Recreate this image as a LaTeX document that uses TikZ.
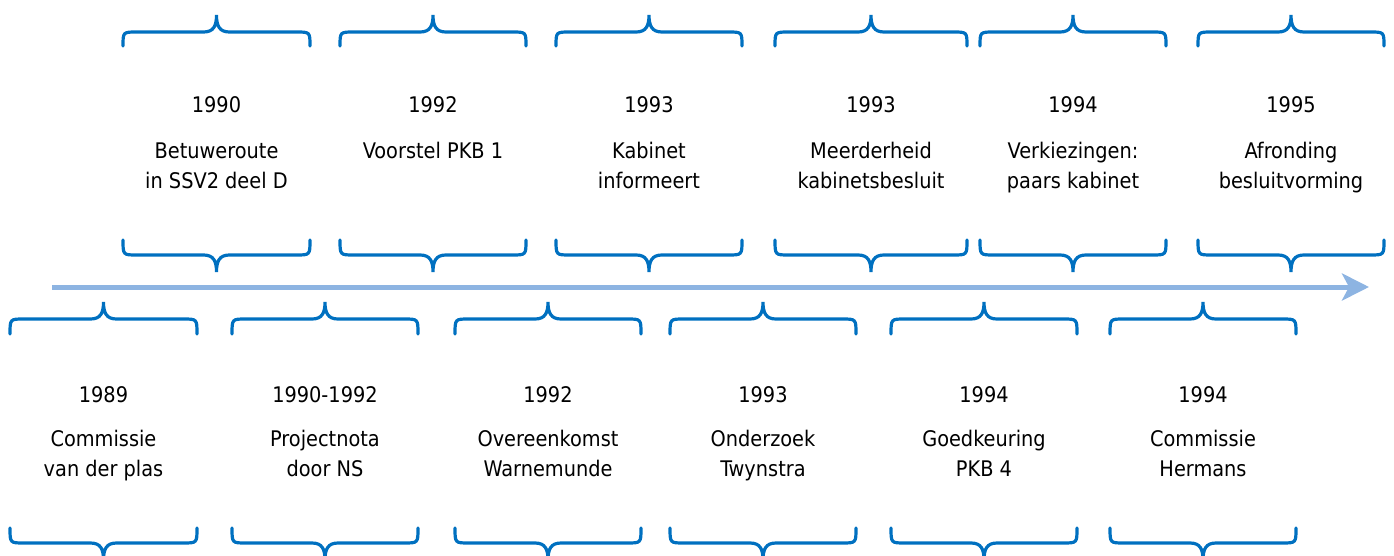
\documentclass[tikz,border=0pt]{standalone}
\usepackage{fontspec}
\setmainfont{DejaVu Sans Condensed}
\usetikzlibrary{arrows.meta}
\definecolor{bracecol}{RGB}{0,112,192}
\definecolor{axiscol}{RGB}{141,180,226}
% curly brace between x0 and x1: ends at yend, straight part at yline, tip at ytip
\newcommand\curlybrace[5]{%
  \pgfmathsetmacro\bxc{(#1+#2)/2}%
  \pgfmathsetmacro\bym{#4+0.35*(#5-#4)}%
  \draw[bracestyle] (#1,#3) .. controls (#1,#4) .. (#1+14,#4) -- (\bxc-13,#4)
    .. controls (\bxc-3,#4) and (\bxc,\bym) .. (\bxc,#5)
    .. controls (\bxc,\bym) and (\bxc+3,#4) .. (\bxc+13,#4) -- (#2-14,#4)
    .. controls (#2,#4) .. (#2,#3);}
\begin{document}
\begin{tikzpicture}[x=1pt,y=-1pt,
  bracestyle/.style={draw=bracecol,line width=3.2pt,line cap=round},
  axis/.style={draw=axiscol,line width=5pt,-{Stealth[length=27pt,width=27pt,inset=7pt]}},
  label/.style={anchor=base,inner sep=0pt,font=\fontsize{21.5}{30}\selectfont,text=black}]
\useasboundingbox (0,0) rectangle (1394,556);
% timeline axis
\coordinate (tstart) at (52,287);
\coordinate (tend) at (1369,287);
\draw[axis] (tstart) -- (tend);
% upper row of events
\foreach \xa/\xb/\yr/\la/\lb [count=\i] in {
  123/310/1990/Betuweroute/in SSV2 deel D,
  340/526/1992/Voorstel PKB 1/,
  556/742/1993/Kabinet/informeert,
  775/967/1993/Meerderheid/kabinetsbesluit,
  980/1166/1994/Verkiezingen:/paars kabinet,
  1198/1384/1995/Afronding/besluitvorming}{
  \curlybrace{\xa}{\xb}{46}{32}{15}
  \curlybrace{\xa}{\xb}{240}{255}{272}
  \node[label] (uy\i) at ({(\xa+\xb)/2},113) {\yr};
  \node[label] (ua\i) at ({(\xa+\xb)/2},159) {\la};
  \node[label] (ub\i) at ({(\xa+\xb)/2},189) {\lb};
}
% lower row of events
\foreach \xa/\xb/\yr/\la/\lb [count=\i] in {
  10/197/1989/Commissie/van der plas,
  232/418/1990-1992/Projectnota/door NS,
  455/641/1992/Overeenkomst/Warnemunde,
  670/856/1993/Onderzoek/Twynstra,
  891/1077/1994/Goedkeuring/PKB 4,
  1110/1296/1994/Commissie/Hermans}{
  \curlybrace{\xa}{\xb}{334}{319}{302}
  \curlybrace{\xa}{\xb}{528}{543}{560}
  \node[label] (ly\i) at ({(\xa+\xb)/2},402) {\yr};
  \node[label] (la\i) at ({(\xa+\xb)/2},446) {\la};
  \node[label] (lb\i) at ({(\xa+\xb)/2},476) {\lb};
}
\end{tikzpicture}
\end{document}
